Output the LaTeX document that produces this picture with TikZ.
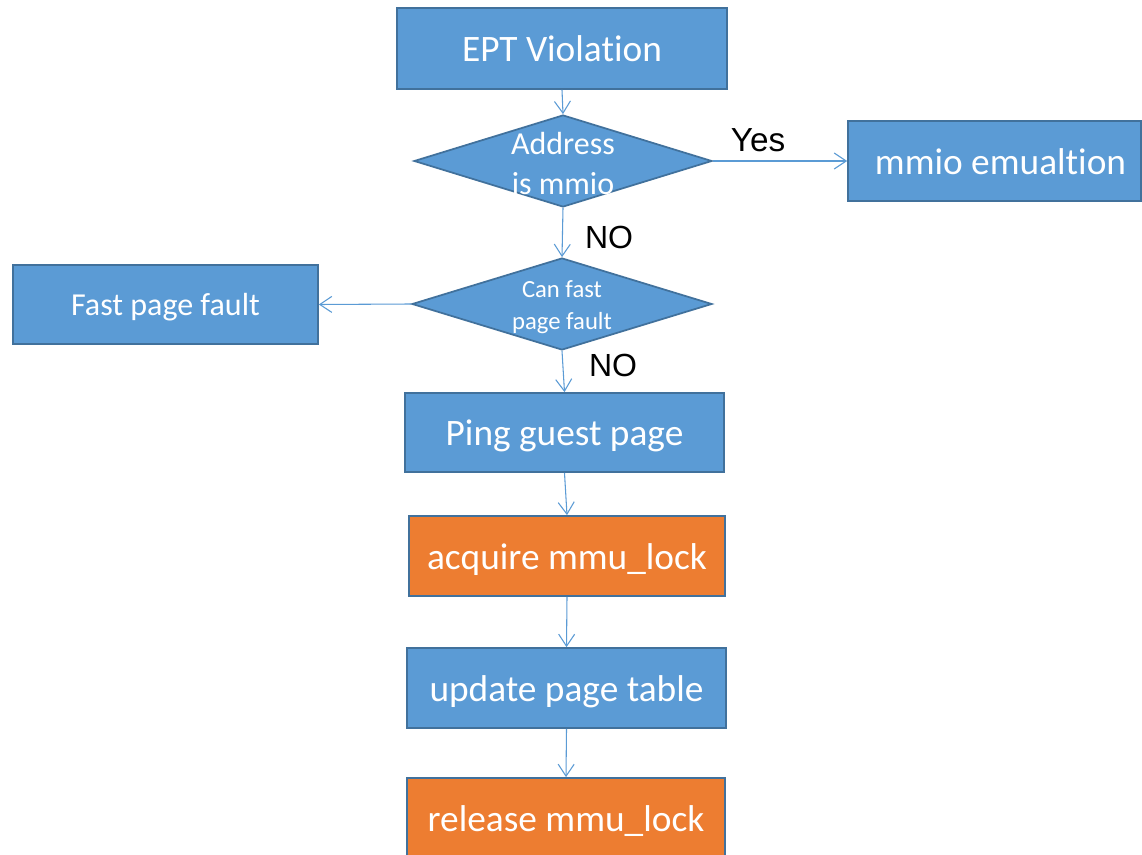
\documentclass[tikz,border=0pt]{standalone}
\usepackage{fontspec}
\setmainfont{Carlito}[Ligatures=NoCommon]
\newfontfamily\labelfont{Liberation Sans}
\usetikzlibrary{shapes.geometric,arrows.meta}
\definecolor{boxblue}{HTML}{5B9BD5}
\definecolor{boxedge}{HTML}{41719C}
\definecolor{boxorange}{HTML}{ED7D31}
\tikzset{
  stepbox/.style={rectangle, draw=boxedge, line width=1.3pt, fill=boxblue,
    text=white, inner sep=0pt, text height=25.2pt, text depth=5.6pt,
    font=\fontsize{28}{33}\selectfont},
  smallstep/.style={stepbox, text height=21.6pt, text depth=4.8pt,
    font=\fontsize{24}{29}\selectfont},
  lockbox/.style={stepbox, fill=boxorange},
  decision/.style={diamond, draw=boxedge, line width=1.3pt, fill=boxblue,
    inner sep=0pt},
  dectext/.style={text=white, align=center, inner sep=0pt},
  flow/.style={draw=boxblue, line width=0.8pt,
    -{Straight Barb[length=9pt,width=12pt,line width=0.8pt]}},
  answer/.style={text=black, font=\labelfont\fontsize{24}{28}\selectfont}
}
\begin{document}
\begin{tikzpicture}[x=0.75pt,y=-0.75pt]
  \path[use as bounding box, fill=white] (0,0) rectangle (1142,855);

  % process steps
  \node[stepbox, minimum width=247.5pt, minimum height=60.75pt] (ept) at (562,48.5) {EPT Violation};
  \node[stepbox, minimum width=219.75pt, minimum height=60pt] (mmio) at (994.5,161) {\hspace{9pt}mmio emualtion};
  \node[smallstep, minimum width=228.75pt, minimum height=59.25pt] (fast) at (165.5,304.5) {Fast page fault};
  \node[stepbox, minimum width=239.25pt, minimum height=59.25pt] (ping) at (564.5,432.5) {Ping guest page};
  \node[lockbox, minimum width=237pt, minimum height=60pt] (acq) at (567,556) {acquire mmu\_lock};
  \node[stepbox, minimum width=239.25pt, minimum height=60pt] (upd) at (566.5,688) {update page table};
  \node[lockbox, minimum width=238.5pt, minimum height=60pt] (rel) at (566,818) {release mmu\_lock};

  % decisions
  \node[decision, minimum width=223.5pt, minimum height=69pt] (isio) at (563,161) {};
  \node[dectext, font=\fontsize{24}{30}\selectfont] (isiotext) at (563,164) {Address\\is mmio};
  \node[decision, minimum width=225pt, minimum height=69pt] (canfast) at (562,304) {};
  \node[dectext, font=\fontsize{18.5}{24}\selectfont] (canfasttext) at (562,307) {Can fast\\page fault};

  % connectors
  \draw[flow] (ept.south) -- (isio.north);
  \draw[flow] (isio.east) -- (mmio.west);
  \draw[flow] (isio.south) -- (canfast.north);
  \draw[flow] (canfast.west) -- (fast.east);
  \draw[flow] (canfast.south) -- (ping.north);
  \draw[flow] (ping.south) -- (acq.north);
  \draw[flow] (acq.south) -- (upd.north);
  \draw[flow] (upd.south) -- (rel.north);

  % branch labels
  \node[answer, font=\labelfont\fontsize{25}{29}\selectfont] (yes) at (758,140) {Yes};
  \node[answer] (no1) at (609,237) {NO};
  \node[answer] (no2) at (613,365) {NO};
\end{tikzpicture}
\end{document}
